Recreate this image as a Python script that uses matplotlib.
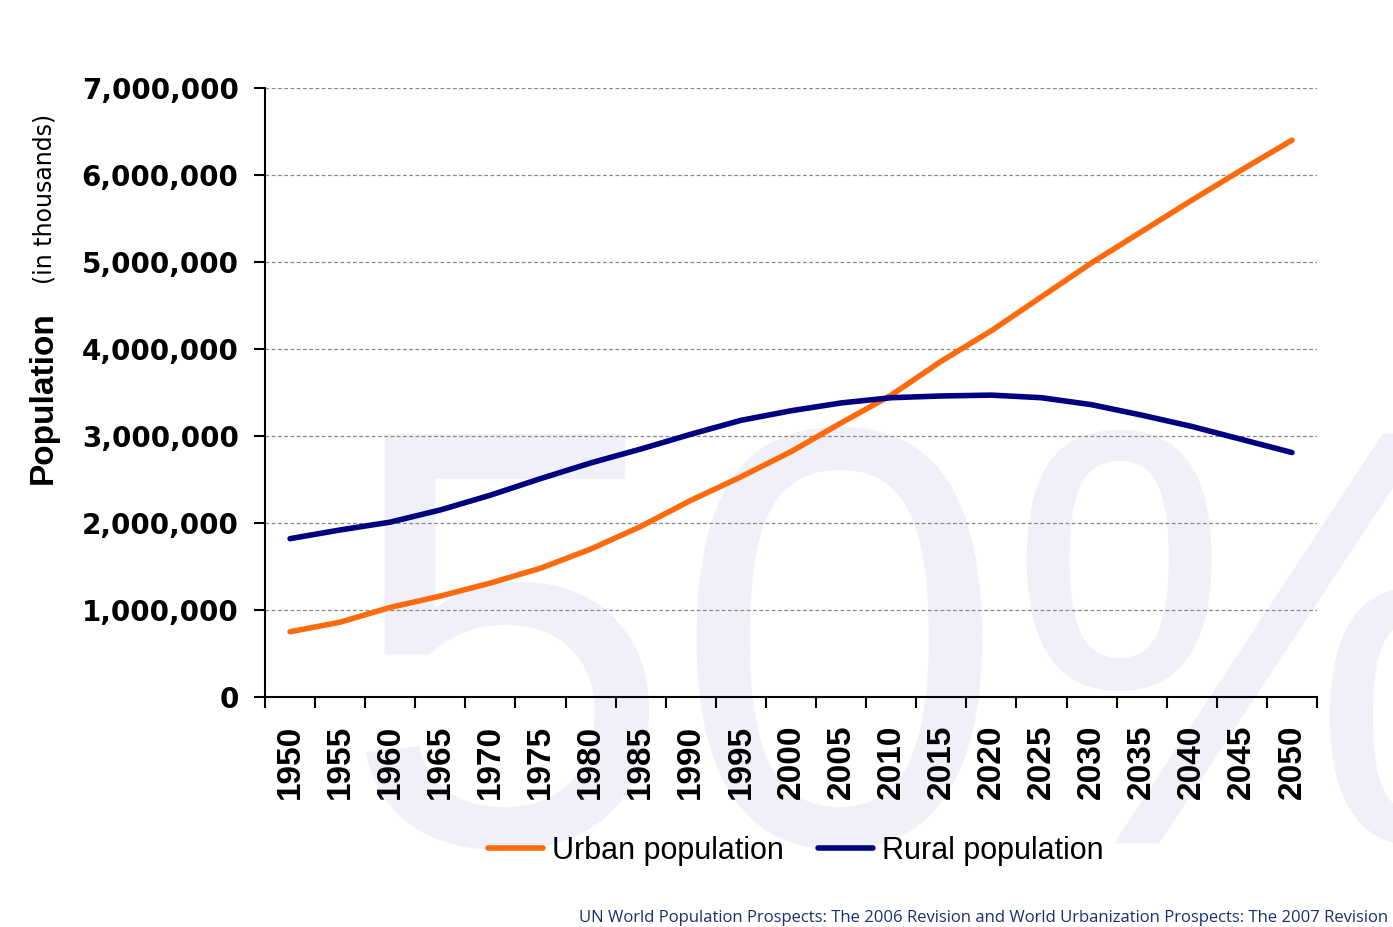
import numpy as np
import matplotlib.pyplot as plt
from matplotlib.ticker import FuncFormatter, FixedLocator

years = list(range(1950, 2051, 5))
# population in thousands
urban = [750000, 860000, 1030000, 1160000, 1310000, 1480000, 1700000, 1960000,
         2260000, 2530000, 2820000, 3150000, 3470000, 3860000, 4210000, 4600000,
         4990000, 5350000, 5710000, 6060000, 6400000]
rural = [1820000, 1920000, 2010000, 2150000, 2320000, 2510000, 2690000, 2850000,
         3020000, 3180000, 3290000, 3380000, 3440000, 3460000, 3470000, 3440000,
         3360000, 3240000, 3110000, 2960000, 2810000]
series_names = ['Urban population', 'Rural population']
source = 'UN World Population Prospects: The 2006 Revision and World Urbanization Prospects: The 2007 Revision'

fig = plt.figure(figsize=(13.93, 9.27), dpi=100)
fig.patch.set_facecolor('white')

# faint watermark behind everything
fig.text(0.245, 0.09, '50%', fontsize=430, color='#f0f0f8', family='Liberation Sans',
         ha='left', va='baseline', zorder=-5)

ax = fig.add_axes([265/1393, 1-697/927, (1317-265)/1393, (697-88)/927])
ax.patch.set_alpha(0)

ax.plot(years, urban, color='#ff6a0d', lw=4, label=series_names[0], solid_capstyle='round')
ax.plot(years, rural, color='#000080', lw=4, label=series_names[1], solid_capstyle='round')

ax.set_xlim(1947.5, 2052.5)
ax.set_ylim(0, 7000000)
ax.yaxis.set_major_locator(FixedLocator(np.arange(0, 7000001, 1000000)))
ax.yaxis.set_major_formatter(FuncFormatter(lambda v, p: f'{int(v):,}'))
ax.grid(axis='y', color='#888888', ls=(0, (3, 2)), lw=0.9)

ax.set_xticks(years)
ax.set_xticklabels([str(y) for y in years], rotation=90, fontsize=24,
                   family='Liberation Sans', fontweight='bold')
ax.set_xticks(np.arange(1947.5, 2053, 5), minor=True)
ax.tick_params(axis='x', which='major', length=0, pad=20)
ax.tick_params(axis='x', which='minor', length=8, width=1.5, direction='out')
ax.tick_params(axis='y', length=8, width=1.5, pad=11)
for lab in ax.get_yticklabels():
    lab.set_fontsize(20)
    lab.set_fontweight('bold')
    lab.set_family('DejaVu Sans')

for s in ['top', 'right']:
    ax.spines[s].set_visible(False)
for s in ['left', 'bottom']:
    ax.spines[s].set_linewidth(1.5)

fig.text(43/1393, 1-398/927, 'Population', rotation=90, fontsize=24, fontweight='bold',
         family='Liberation Sans', ha='center', va='center')
fig.text(45/1393, 1-199/927, '(in thousands)', rotation=90, fontsize=17,
         family='DejaVu Sans', ha='center', va='center')

fig.legend(loc='center', bbox_to_anchor=(796/1393, 1-851/927), ncol=2, frameon=False,
           prop={'family': 'Liberation Sans', 'size': 22}, handlelength=1.8,
           handletextpad=0.3, columnspacing=1.1)

fig.text(1388/1393, 1-918/927, source, fontsize=12, color='#1a2f6e', family='Open Sans',
         ha='right', va='center')

fig.savefig('out.png', dpi=100)
